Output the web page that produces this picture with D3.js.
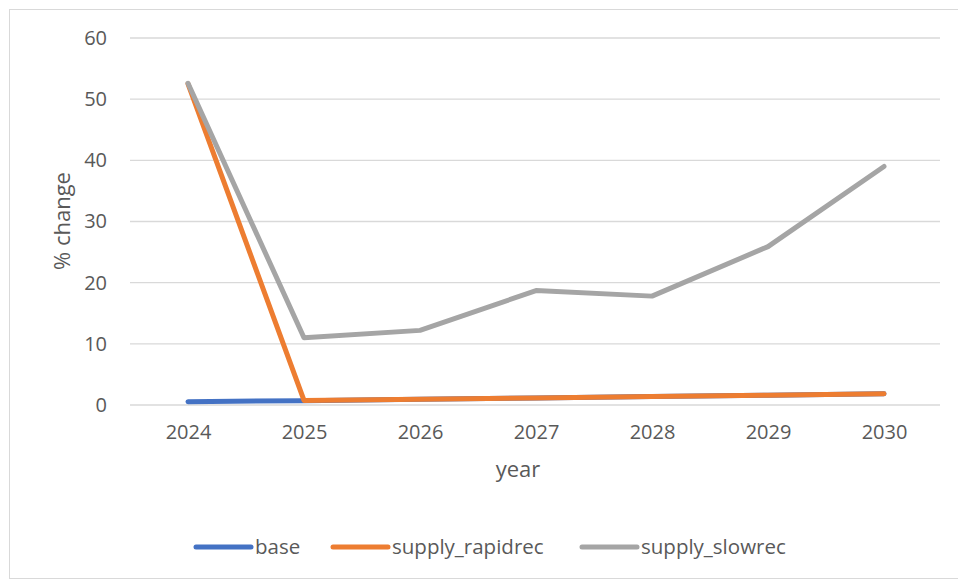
<!DOCTYPE html>
<html>
<head>
<meta charset="utf-8">
<script src="https://cdn.jsdelivr.net/npm/d3@7"></script>
<style>
  body { margin: 0; background: #fff; }
  svg { display: block; font-family: "Open Sans", "Noto Sans", sans-serif; }
</style>
</head>
<body>
<svg id="chart" width="958" height="579"></svg>
<script>
// Data: percentage change by year for each scenario
const years = ["2024", "2025", "2026", "2027", "2028", "2029", "2030"];
const base = [0.55, 0.7, 0.95, 1.15, 1.4, 1.6, 1.85];
const supplyRapidrec = [52.5, 0.75, 0.95, 1.15, 1.4, 1.6, 1.85];
const supplySlowrec = [52.6, 11.0, 12.2, 18.7, 17.8, 25.9, 39.0];
const yTicks = [0, 10, 20, 30, 40, 50, 60];
const seriesNames = ["base", "supply_rapidrec", "supply_slowrec"];
const seriesColors = ["#4472C4", "#ED7D31", "#A5A5A5"];

const series = [base, supplyRapidrec, supplySlowrec].map((values, i) => ({
  name: seriesNames[i], color: seriesColors[i], values
}));

const svg = d3.select("#chart");
const W = 958, H = 579;
const textColor = "#595959";
const font = "'Open Sans', 'Noto Sans', sans-serif";

// Chart area border
svg.append("rect")
  .attr("x", 9.5).attr("y", 9.5)
  .attr("width", W - 9).attr("height", H - 10)
  .attr("fill", "#fff").attr("stroke", "#d9d9d9").attr("stroke-width", 1);

const plot = { left: 130, right: 942, top: 38, bottom: 405 };

const x = d3.scalePoint().domain(years)
  .range([plot.left, plot.right]).padding(0.5);
const y = d3.scaleLinear().domain([0, 60]).range([plot.bottom, plot.top]);

// Horizontal gridlines
svg.append("g")
  .selectAll("line").data(yTicks).join("line")
  .attr("x1", plot.left).attr("x2", plot.right - 2)
  .attr("y1", d => y(d)).attr("y2", d => y(d))
  .attr("stroke", "#d9d9d9").attr("stroke-width", 1.3);

// Y axis labels
const yAxis = d3.axisLeft(y).tickValues(yTicks).tickSize(0).tickPadding(0);
svg.append("g")
  .attr("transform", `translate(${plot.left - 23},0)`)
  .call(yAxis)
  .call(g => g.select(".domain").remove())
  .call(g => g.selectAll("text")
    .attr("font-size", 20).attr("fill", textColor)
    .attr("font-family", font));

// X axis labels
const xAxis = d3.axisBottom(x).tickSize(0).tickPadding(0);
svg.append("g")
  .attr("transform", `translate(0,${plot.bottom + 20})`)
  .call(xAxis)
  .call(g => g.select(".domain").remove())
  .call(g => g.selectAll("text")
    .attr("font-size", 20).attr("fill", textColor)
    .attr("font-family", font));

// Axis titles
svg.append("text")
  .attr("x", 518).attr("y", 477)
  .attr("text-anchor", "middle")
  .attr("font-size", 22).attr("fill", textColor)
  .text("year");

svg.append("text")
  .attr("transform", `translate(70,221) rotate(-90)`)
  .attr("text-anchor", "middle")
  .attr("font-size", 22).attr("fill", textColor)
  .text("% change");

// Lines
const line = d3.line()
  .x((d, i) => x(years[i]))
  .y(d => y(d));

svg.append("g")
  .selectAll("path").data(series).join("path")
  .attr("d", d => line(d.values))
  .attr("fill", "none")
  .attr("stroke", d => d.color)
  .attr("stroke-width", 5)
  .attr("stroke-linecap", "round")
  .attr("stroke-linejoin", "round");

// Legend
const legendX = [196, 333, 582];
const legend = svg.append("g").selectAll("g").data(series).join("g")
  .attr("transform", (d, i) => `translate(${legendX[i]},547)`);
legend.append("line")
  .attr("x1", 0).attr("x2", 55)
  .attr("stroke", d => d.color).attr("stroke-width", 5)
  .attr("stroke-linecap", "round");
legend.append("text")
  .attr("x", 59).attr("y", 7)
  .attr("font-size", 20.5).attr("fill", textColor)
  .text(d => d.name);
</script>
</body>
</html>
